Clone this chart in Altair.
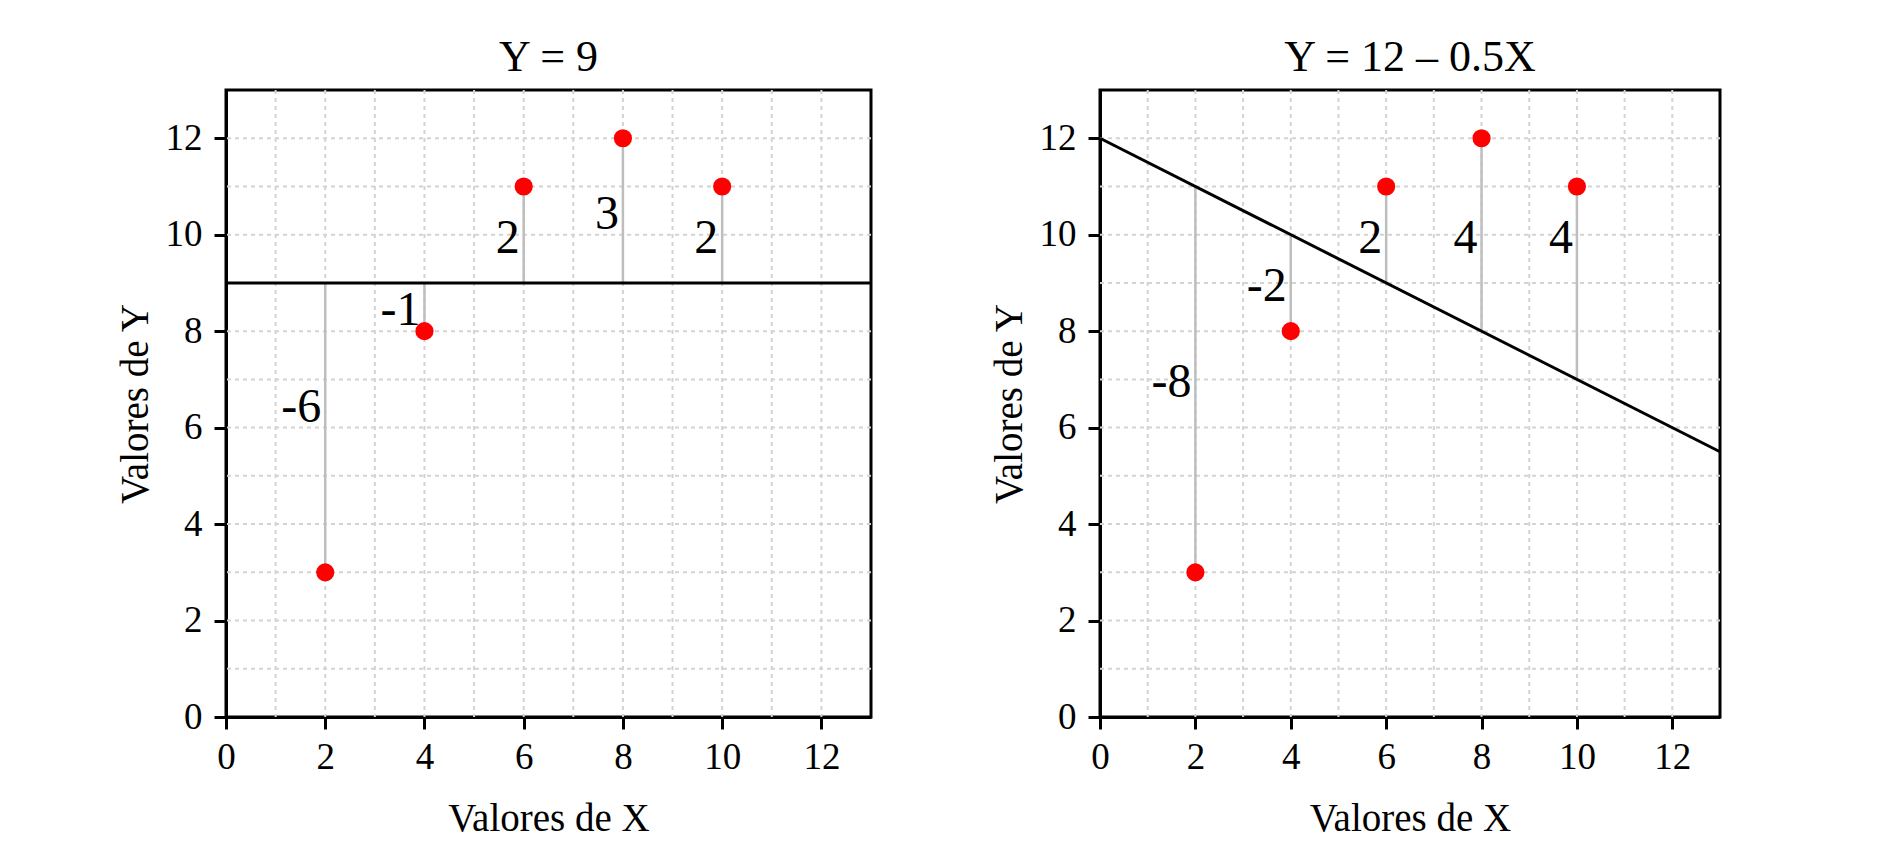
import altair as alt
import pandas as pd

# ---- data ----
x_vals = [2, 4, 6, 8, 10]
y_vals = [3, 8, 11, 12, 11]

pred_left = [9, 9, 9, 9, 9]
pred_right = [11, 10, 9, 8, 7]

resid_left = ["-6", "-1", "2", "3", "2"]
resid_right = ["-8", "-2", "2", "4", "4"]
label_y_left = [6.5, 8.5, 10, 10.5, 10]
label_y_right = [7, 9, 10, 10, 10]

line_left_x = [0, 13]
line_left_y = [9, 9]
line_right_x = [0, 13]
line_right_y = [12, 5.5]

grid_vals = [1, 2, 3, 4, 5, 6, 7, 8, 9, 10, 11, 12]
tick_vals = [0, 2, 4, 6, 8, 10, 12]

title_left = "Y = 9"
title_right = "Y = 12 \u2013 0.5X"
x_title = "Valores de X"
y_title = "Valores de Y"

FONT = "Liberation Serif"
LABEL_FONT = "'Liberation Serif', 'DejaVu Serif', serif"


def panel(pred, resid, label_y, lx, ly, title, width):
    pts = pd.DataFrame({"x": x_vals, "y": y_vals, "pred": pred,
                        "lab": resid, "ly": label_y})
    line = pd.DataFrame({"x": lx, "y": ly})
    grid = pd.DataFrame({"g": grid_vals})

    xs = alt.Scale(domain=[0, 13], nice=False, zero=False)
    ys = alt.Scale(domain=[0, 13], nice=False, zero=False)
    xax = alt.Axis(values=tick_vals, title=x_title, labelFlush=False,
                   labelOverlap=False, labelPadding=10, titlePadding=24)
    yax = alt.Axis(values=tick_vals, title=y_title, labelOverlap=False,
                   labelPadding=12, titlePadding=10)

    vgrid = alt.Chart(grid).mark_rule(color="#d3d3d3", strokeWidth=2,
                                      strokeDash=[4, 4]).encode(
        x=alt.X("g:Q", scale=xs, axis=xax))
    hgrid = alt.Chart(grid).mark_rule(color="#d3d3d3", strokeWidth=2,
                                      strokeDash=[4, 4]).encode(
        y=alt.Y("g:Q", scale=ys, axis=yax))
    dots = alt.Chart(pts).mark_circle(color="#ff0000", opacity=1, size=330).encode(
        x=alt.X("x:Q", scale=xs, axis=xax),
        y=alt.Y("y:Q", scale=ys, axis=yax))
    segs = alt.Chart(pts).mark_rule(color="#bebebe", strokeWidth=2.5).encode(
        x="x:Q", y="pred:Q", y2="y:Q")
    fit = alt.Chart(line).mark_line(color="black", strokeWidth=3).encode(
        x="x:Q", y="y:Q")
    labs = alt.Chart(pts).mark_text(font=LABEL_FONT, fontSize=48, align="right",
                                    baseline="middle", dx=-4, dy=4,
                                    color="black").encode(
        x="x:Q", y="ly:Q", text="lab:N")

    return alt.layer(vgrid, hgrid, segs, dots, fit, labs).properties(
        width=width, height=627,
        title=alt.TitleParams(text=title, font=FONT, fontSize=44,
                              fontWeight="normal", color="black",
                              anchor="middle", offset=9))


left = panel(pred_left, resid_left, label_y_left, line_left_x, line_left_y,
             title_left, 645)
right = panel(pred_right, resid_right, label_y_right, line_right_x,
              line_right_y, title_right, 620)

chart = alt.hconcat(left, right, spacing=109).properties(
    padding={"left": 106, "top": 26, "right": 5, "bottom": 5},
    background="white"
).configure_view(
    stroke="black", strokeWidth=3
).configure_text(
    font=LABEL_FONT
).configure_axis(
    domainColor="black", domainWidth=3, tickColor="black", tickWidth=3,
    tickSize=12, labelFont=FONT, labelFontSize=37, labelColor="black",
    titleFont=FONT, titleFontSize=39, titleFontWeight="normal",
    titleColor="black", grid=False
)

chart.save("out.html", embed_options={"renderer": "svg", "actions": False})
